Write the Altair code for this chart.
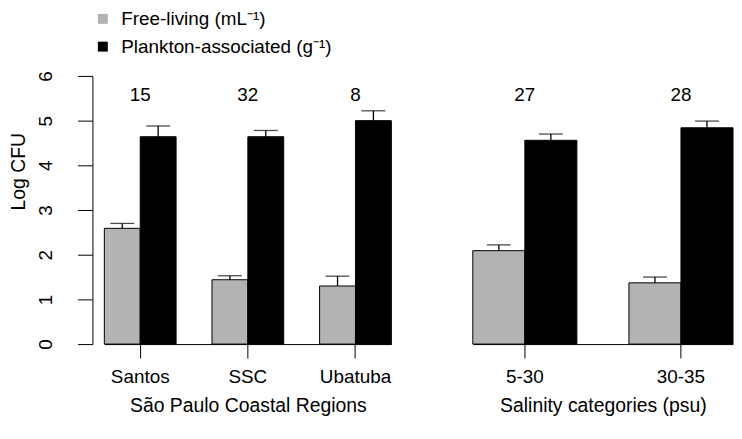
import altair as alt
import pandas as pd

# ---- data ----
series = ["Free-living (mL⁻¹)", "Plankton-associated (g⁻¹)"]
series_colors = ["#b3b3b3", "#000000"]

region_groups = ["Santos", "SSC", "Ubatuba"]
region_free = [2.59, 1.44, 1.30]
region_free_se = [0.11, 0.09, 0.22]
region_plank = [4.64, 4.64, 5.00]
region_plank_se = [0.24, 0.14, 0.22]
region_n = [15, 32, 8]

salinity_groups = ["5-30", "30-35"]
salinity_free = [2.09, 1.37]
salinity_free_se = [0.13, 0.13]
salinity_plank = [4.56, 4.84]
salinity_plank_se = [0.14, 0.15]
salinity_n = [27, 28]

y_ticks = [0, 1, 2, 3, 4, 5, 6]
FONT = "Liberation Sans"
FS = 19
TFS = 19.5


def make_frame(groups, free, free_se, plank, plank_se):
    rows = []
    for g, v, e in zip(groups, free, free_se):
        rows.append({"group": g, "series": series[0], "value": v, "upper": v + e})
    for g, v, e in zip(groups, plank, plank_se):
        rows.append({"group": g, "series": series[1], "value": v, "upper": v + e})
    return pd.DataFrame(rows)


legend = alt.Legend(
    orient="none", legendX=-11, legendY=-67, title=None,
    symbolType="square", symbolSize=100, symbolStrokeWidth=0,
    labelFontSize=FS, labelColor="black", labelFont=FONT, labelLimit=0,
    labelOffset=9, rowPadding=8, padding=0, direction="vertical",
)


def make_panel(groups, free, free_se, plank, plank_se, counts, width, title, show_y):
    df = make_frame(groups, free, free_se, plank, plank_se)
    cdf = pd.DataFrame({"group": groups, "n": [str(c) for c in counts]})

    x = alt.X(
        "group:N", sort=groups,
        scale=alt.Scale(paddingInner=1 / 3, paddingOuter=0),
        axis=alt.Axis(
            title=title, labelAngle=0, labelFontSize=FS, labelColor="black",
            labelPadding=10, tickSize=14, tickColor="black", tickWidth=1,
            domainColor="black", domainWidth=1,
            titleFontSize=TFS, titleFontWeight="normal", titleColor="black",
            titlePadding=10,
        ),
    )
    xoff = alt.XOffset("series:N", sort=series,
                       scale=alt.Scale(paddingInner=0, paddingOuter=0))
    if show_y:
        yaxis = alt.Axis(
            values=y_ticks, title="Log CFU", grid=False, labelAngle=270,
            labelAlign="center", labelBaseline="bottom", labelPadding=22,
            labelFontSize=FS, labelColor="black", tickSize=15, tickColor="black",
            domainColor="black", offset=12, titleFontSize=TFS,
            titleFontWeight="normal", titleColor="black", titlePadding=8,
            titleY=96,
        )
    else:
        yaxis = None
    yscale = alt.Scale(domain=[0, 6], nice=False, zero=True)

    base = alt.Chart(df)
    bars = base.mark_bar(stroke="black", strokeWidth=1).encode(
        x=x, xOffset=xoff,
        y=alt.Y("value:Q", scale=yscale, axis=yaxis),
        color=alt.Color("series:N", sort=series,
                        scale=alt.Scale(domain=series, range=series_colors),
                        legend=legend),
    )
    err = base.mark_rule(color="black", strokeWidth=1.3).encode(
        x=alt.X("group:N", sort=groups), xOffset=xoff,
        y="value:Q", y2="upper:Q",
    )
    caps = base.mark_tick(color="black", thickness=1.3, size=24,
                          orient="horizontal").encode(
        x=alt.X("group:N", sort=groups), xOffset=xoff, y="upper:Q",
    )
    nlab = alt.Chart(cdf).mark_text(fontSize=FS, font=FONT, color="black",
                                    baseline="middle").encode(
        x=alt.X("group:N", sort=groups), y=alt.datum(5.57), text="n:N",
    )
    return alt.layer(bars, err, caps, nlab).properties(width=width, height=270)


left = make_panel(region_groups, region_free, region_free_se, region_plank,
                  region_plank_se, region_n, 289, "São Paulo Coastal Regions", True)
right = make_panel(salinity_groups, salinity_free, salinity_free_se, salinity_plank,
                   salinity_plank_se, salinity_n, 262, "Salinity categories (psu)", False)

chart = (
    alt.hconcat(left, right, spacing=82, bounds="flush")
    .resolve_scale(x="independent", xOffset="independent")
    .properties(padding={"left": 0, "top": 0, "right": 0, "bottom": 0})
    .configure(font=FONT)
    .configure_view(stroke=None)
)

chart.save("out.html", embed_options={"renderer": "svg", "actions": False})
